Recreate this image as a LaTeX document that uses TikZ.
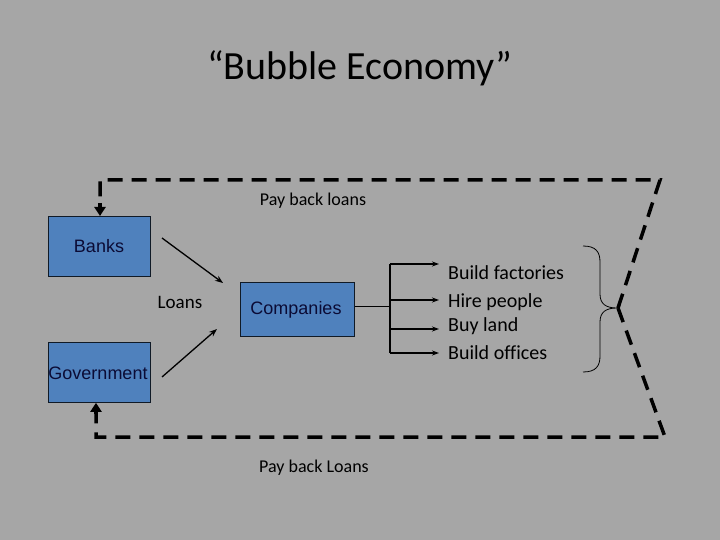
\documentclass[tikz,border=0pt]{standalone}
\usepackage{fontspec}
\setmainfont[Ligatures=NoCommon]{Carlito}
\newfontfamily\arialf{Liberation Sans}
\usetikzlibrary{arrows.meta,decorations.pathreplacing}
\definecolor{bg}{HTML}{A6A6A6}
\definecolor{boxblue}{HTML}{4F81BD}
\definecolor{boxtext}{HTML}{0B0B35}
\begin{document}
\begin{tikzpicture}[x=1pt,y=-1pt,
  bluebox/.style={draw=black!80!boxblue, line width=0.8pt, fill=boxblue, text=boxtext,
    inner sep=0pt, anchor=north west},
  boxlbl/.style={text=boxtext, font=\arialf\fontsize{18}{21}\selectfont, inner sep=0pt},
  thinarrow/.style={line width=1.3pt,-{Stealth[length=8pt,width=6pt]}},
  listarrow/.style={line width=1.4pt,-{Stealth[length=7pt,width=5pt]}},
  loop/.style={line width=3.5pt, dash pattern=on 15pt off 9pt},
  lbl/.style={font=\fontsize{20}{23}\selectfont, anchor=west, inner sep=0pt},
  small/.style={font=\fontsize{18}{21}\selectfont, inner sep=0pt}]
\fill[bg] (0,0) rectangle (720,540);
\useasboundingbox (0,0) rectangle (720,540);

\node[font=\fontsize{40}{46}\selectfont, inner sep=0pt] (title) at (360,68) {“Bubble Economy”};

\node[bluebox, minimum width=102pt, minimum height=60pt] (banks) at (48,216) {};
\node[boxlbl] (bankslbl) at (99,246) {Banks};
\node[bluebox, minimum width=102pt, minimum height=60pt] (gov) at (48,342) {};
\node[boxlbl] (govlbl) at (98,373) {Government};
\node[bluebox, minimum width=114pt, minimum height=54pt] (comp) at (240,282) {};
\node[boxlbl] (complbl) at (296,310) {Companies};

\node[font=\fontsize{19}{22}\selectfont, inner sep=0pt] (loans) at (180,302) {Loans};
\node[small] (pbtop) at (313,201) {Pay back loans};
\node[small] (pbbot) at (314,468) {Pay back Loans};

\coordinate (a1s) at (162,238);
\coordinate (a1e) at (223,283);
\coordinate (a2s) at (162,377);
\coordinate (a2e) at (217,329);
\draw[thinarrow] (a1s) -- (a1e);
\draw[thinarrow] (a2s) -- (a2e);

\coordinate (split) at (390,306);
\draw[line width=0.8pt] (comp.east |- split) -- (split);
\draw[line width=1.4pt] (390,264) -- (390,353);
\node[lbl] (l1) at (448,273) {Build factories};
\node[lbl] (l2) at (448,302) {Hire people};
\node[lbl] (l3) at (448,326) {Buy land};
\node[lbl] (l4) at (448,353) {Build offices};
\draw[listarrow] (390,264) -- (439,264);
\draw[listarrow] (390,300) -- (439,300);
\draw[listarrow] (390,329) -- (439,329);
\draw[listarrow] (390,353) -- (439,353);

% brace
\draw[line width=0.8pt] (583,246) .. controls (596,246) and (600,252) .. (600,262)
  -- (600,294) .. controls (600,304) and (606,308) .. (617,308)
  .. controls (606,308) and (600,312) .. (600,322)
  -- (600,356) .. controls (600,366) and (596,372) .. (583,372);

% dashed loop
\coordinate (tr) at (660,180);
\coordinate (tl) at (100,180);
\coordinate (tip) at (618,308);
\coordinate (br) at (665,437);
\coordinate (bl) at (96,437);
\draw[loop] (tip) -- (tr) -- (tl) -- (100,204);
\draw[line width=3.5pt,-{Triangle[length=9pt,width=11pt]}] (100,203) -- (banks.north west -| 100,0);
\draw[loop] (tip) -- (br) -- (bl) -- (96,414);
\draw[line width=3.5pt,-{Triangle[length=9pt,width=11pt]}] (96,414) -- (gov.south west -| 96,0);
\end{tikzpicture}
\end{document}
